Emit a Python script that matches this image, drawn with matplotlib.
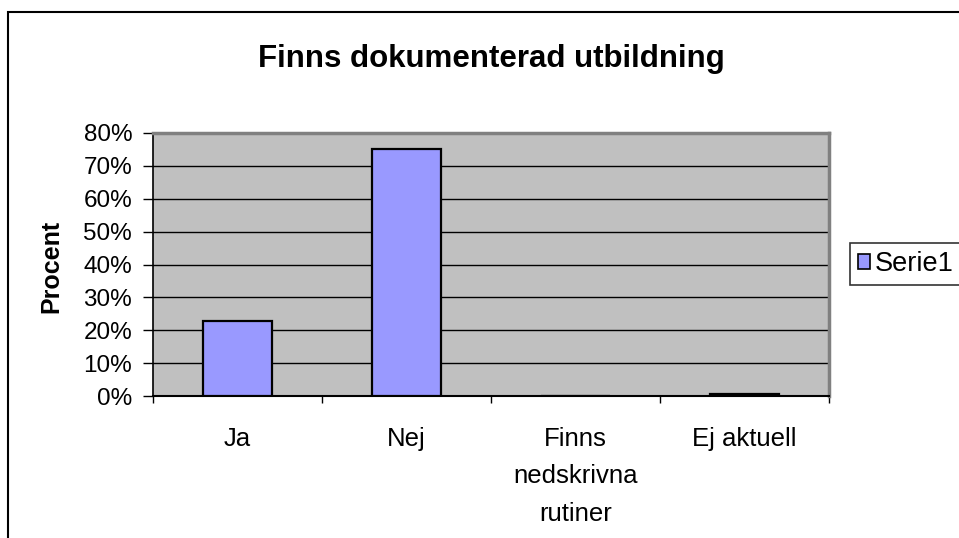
import numpy as np
import matplotlib.pyplot as plt
from matplotlib.patches import Rectangle

plt.rcParams['font.family'] = ['Liberation Sans', 'DejaVu Sans']

categories = ['Ja', 'Nej', 'Finns\nnedskrivna\nrutiner', 'Ej aktuell']
values = [22.8, 75.0, 0.0, 0.5]
series_name = 'Serie1'

fig = plt.figure(figsize=(9.59, 5.38), dpi=100)
ax = fig.add_axes([0.1595, 0.2639, 0.7049, 0.4889])

# outer chart border (runs off the right and bottom edge)
fig.patches.append(Rectangle((8 / 959, -0.05), 1.1, 1 - 12 / 538 + 0.05,
                             transform=fig.transFigure, fill=False,
                             edgecolor='black', linewidth=1.5, zorder=0))

x = np.arange(len(categories))
ax.set_facecolor('#C0C0C0')
ax.bar(x, values, width=0.41, color='#9999FF', edgecolor='black',
       linewidth=1.6, zorder=3, label=series_name)

ax.set_xlim(-0.5, len(categories) - 0.5)
ax.set_ylim(0, 80)
ax.set_yticks(np.arange(0, 81, 10))
ax.set_yticklabels([f'{v}%' for v in range(0, 81, 10)], fontsize=17.5)
ax.yaxis.grid(True, color='black', linewidth=1)
ax.set_axisbelow(True)

ax.set_xticks(np.arange(-0.5, len(categories), 1))
ax.set_xticklabels([])
ax.set_xticks(x, minor=True)
ax.set_xticklabels(categories, minor=True, fontsize=18.5, linespacing=1.72,
                   va='top')
ax.tick_params(axis='x', which='minor', length=0, pad=22)
ax.tick_params(axis='x', which='major', length=5, direction='out', width=1)
ax.tick_params(axis='y', length=7, direction='out', width=1, pad=8)

for s in ['top', 'right']:
    ax.spines[s].set_color('#808080')
    ax.spines[s].set_linewidth(2.5)
ax.spines['left'].set_color('black')
ax.spines['bottom'].set_color('black')
ax.spines['left'].set_linewidth(1.2)
ax.spines['bottom'].set_linewidth(1.5)

ax.set_ylabel('Procent', fontsize=18, fontweight='bold')
ax.yaxis.set_label_coords(63 / 959, 1 - 266 / 538, transform=fig.transFigure)
fig.text(491 / 959, 1 - 59 / 538, 'Finns dokumenterad utbildning',
         ha='center', va='center', fontsize=22.5, fontweight='bold')

leg = ax.legend(loc='center left', bbox_to_anchor=(850 / 959, 1 - 264 / 538),
                bbox_transform=fig.transFigure, fontsize=19.5, frameon=True,
                fancybox=False, edgecolor='black', handlelength=0.45,
                handleheight=0.45, handletextpad=0.15, borderpad=0.3,
                borderaxespad=0)
leg.get_frame().set_linewidth(1.2)
for h in leg.legend_handles:
    h.set_linewidth(1.2)

plt.savefig('out.png', dpi=100)
